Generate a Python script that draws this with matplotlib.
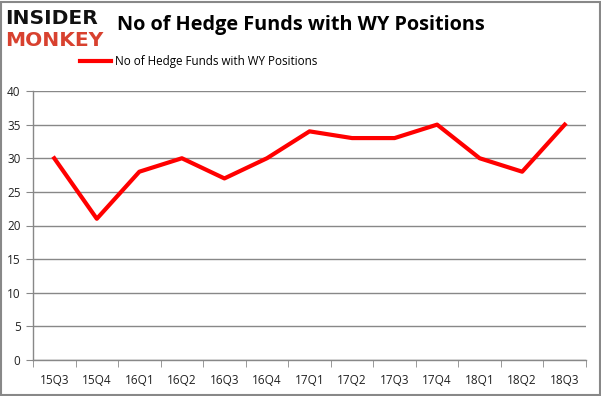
import matplotlib
matplotlib.use("Agg")
import matplotlib.pyplot as plt
from matplotlib.patches import Rectangle

quarters = ["15Q3", "15Q4", "16Q1", "16Q2", "16Q3", "16Q4", "17Q1", "17Q2", "17Q3", "17Q4", "18Q1", "18Q2", "18Q3"]
funds = [30, 21, 28, 30, 27, 30, 34, 33, 33, 35, 30, 28, 35]
series_name = "No of Hedge Funds with WY Positions"
yticks = [0, 5, 10, 15, 20, 25, 30, 35, 40]

W, H = 601, 396
fig = plt.figure(figsize=(W / 100, H / 100), dpi=100)
plt.rcParams['font.family'] = ['Open Sans', 'DejaVu Sans']

# plot area in pixels: left 33, right 586, top 91, bottom 360
ax = fig.add_axes([33 / W, 1 - 360 / H, (586 - 33) / W, (360 - 91) / H])
x = list(range(len(quarters)))
line, = ax.plot(x, funds, color="#ff0000", linewidth=3, label=series_name, solid_joinstyle="round")
ax.set_xlim(-0.5, len(quarters) - 0.5)
ax.set_ylim(0, 40)
ax.set_yticks(yticks)
ax.set_yticklabels([str(v) for v in yticks], fontsize=8.5, color="#222222")
ax.set_xticks(x)
ax.set_xticklabels(quarters, fontsize=8.5, color="#222222")
ax.set_xticks([i - 0.5 for i in range(len(quarters) + 1)], minor=True)
ax.tick_params(axis="x", which="major", length=0, pad=10)
ax.tick_params(axis="x", which="minor", length=5, color="#888888")
ax.tick_params(axis="y", length=5, color="#888888", pad=4)
ax.yaxis.grid(True, color="#888888", linewidth=1)
ax.set_axisbelow(True)
for s in ["top", "right"]:
    ax.spines[s].set_visible(False)
for s in ["left", "bottom"]:
    ax.spines[s].set_color("#888888")
    ax.spines[s].set_linewidth(1)

# outer border
fig.patches.append(Rectangle((0.5 / W, 1.5 / H), (W - 2) / W, (H - 3.5) / H, transform=fig.transFigure,
                             fill=False, edgecolor="#888888", linewidth=1.5))

# title
fig.text(301 / W, 1 - 25 / H, series_name, ha="center", va="center", fontsize=14.3, fontweight="bold", color="#000000")

# legend
fig.legend(handles=[line], labels=[series_name], loc="center", bbox_to_anchor=(199 / W, 1 - 62 / H),
           frameon=False, fontsize=8.4, handlelength=2.6, handletextpad=0.4)

# logo
fig.text(5 / W, 1 - 18 / H, "INSIDER", ha="left", va="center", fontsize=14.6, fontweight="heavy", color="#111111",
         family=["DejaVu Sans"])
fig.text(5 / W, 1 - 40 / H, "MONKEY", ha="left", va="center", fontsize=14.6, fontweight="heavy", color="#d8412f",
         family=["DejaVu Sans"])

fig.savefig("out.png", dpi=100)
